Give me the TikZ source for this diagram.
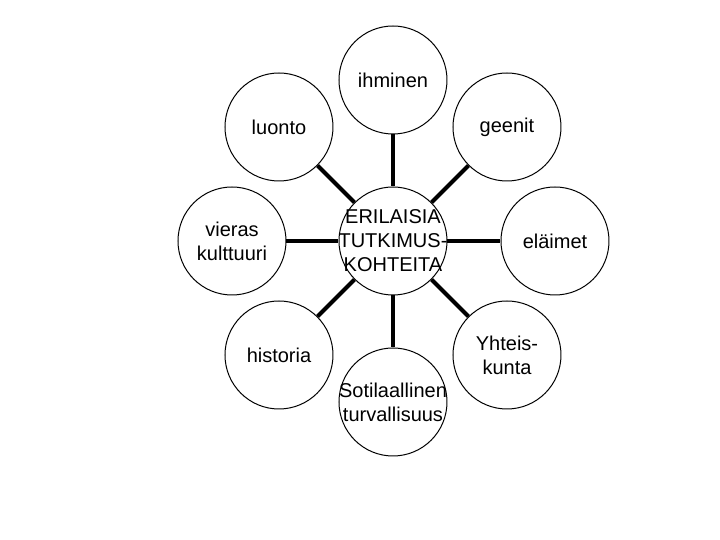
\documentclass[tikz,border=0pt]{standalone}
\usepackage{fontspec}
\setmainfont{Liberation Sans}
\usetikzlibrary{positioning}

\begin{document}
\begin{tikzpicture}[bubble/.style={circle, draw=black, line width=0.5pt, minimum size=54pt, inner sep=-8pt, align=center},
                    node distance=80.5pt and 80.5pt, on grid]
            \useasboundingbox (-196.5pt,-149.5pt) rectangle (163.5pt,120.5pt);

            \node[bubble] (hub) {ERILAISIA\\TUTKIMUS-\\KOHTEITA};
            \node[bubble, above = of hub] (ihminen) {ihminen};
            \node[bubble, above left = 57pt and 57pt of hub] (luonto) {luonto};
            \node[bubble, above right = 57pt and 57pt of hub] (geenit) {geenit};
            \node[bubble, left = of hub] (vieras) {vieras\\kulttuuri};
            \node[bubble, right = 81pt of hub] (elaimet) {eläimet};
            \node[bubble, below left = 57pt and 57pt of hub] (historia) {historia};
            \node[bubble, below right = 57pt and 57pt of hub] (yhteiskunta) {Yhteis-\\kunta};
            \node[bubble, below = of hub] (sotilas) {Sotilaallinen\\turvallisuus};

            \draw[-, line width=2pt] (hub) -- (ihminen);
            \draw[-, line width=2pt] (hub) -- (luonto);
            \draw[-, line width=2pt] (hub) -- (geenit);
            \draw[-, line width=2pt] (hub) -- (vieras);
            \draw[-, line width=2pt] (hub) -- (elaimet);
            \draw[-, line width=2pt] (hub) -- (historia);
            \draw[-, line width=2pt] (hub) -- (yhteiskunta);
            \draw[-, line width=2pt] (hub) -- (sotilas);
        \end{tikzpicture}
\end{document}
